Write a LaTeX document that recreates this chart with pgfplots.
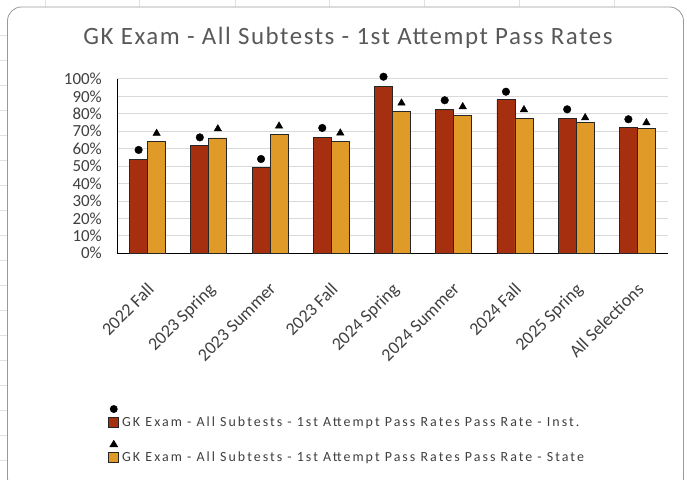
\documentclass[border=0pt]{standalone}
\usepackage{pgfplots}
\pgfplotsset{compat=1.18}
\usepackage{fontspec}
\setmainfont{Carlito}
\newfontfamily\legfont[LetterSpace=14.5]{Carlito}
\newfontfamily\ttlfont[LetterSpace=6.3]{Carlito}
\definecolor{inst}{RGB}{165,47,15}
\definecolor{state}{RGB}{224,154,40}
\definecolor{txt}{RGB}{64,64,64}
\definecolor{ttl}{RGB}{89,89,89}
\definecolor{gridc}{RGB}{217,217,217}
\definecolor{cellc}{RGB}{225,225,225}
\begin{document}
\begin{tikzpicture}[x=1bp,y=1bp]
\useasboundingbox (0,0) rectangle (687,480);
\foreach \yy in {35,60,...,460} \draw[cellc, line width=0.8bp] (0,480-\yy) -- (8,480-\yy);
\foreach \xx in {45,139,235,329,424,519,614} \draw[cellc, line width=0.8bp] (\xx,480) -- (\xx,473);
\draw[rounded corners=14bp, draw=black!40, line width=0.8bp, fill=white] (7.5,-12) rectangle (683.5,473);
\node[font=\ttlfont\fontsize{25}{28}\selectfont, text=ttl] at (348,442) {GK Exam - All Subtests - 1st Attempt Pass Rates};
\begin{axis}[
  at={(117bp,226.7bp)}, anchor=south west,
  width=551bp, height=174.3bp, scale only axis,
  ymin=0, ymax=100, xmin=-0.5, xmax=8.5,
  axis x line*=bottom, axis y line*=left,
  axis line style={black, line width=1bp},
  major tick length=0pt,
  ytick={0,10,...,100},
  yticklabel={\pgfmathprintnumber{\tick}\%},
  /pgf/number format/assume math mode=true,
  ymajorgrids, grid style={gridc, line width=1bp},
  xtick={0,...,8},
  xticklabels={2022 Fall,2023 Spring,2023 Summer,2023 Fall,2024 Spring,2024 Summer,2024 Fall,2025 Spring,All Selections},
  x tick label style={rotate=45, anchor=north east, font=\fontsize{18}{18}\selectfont, text=txt, inner sep=1bp, yshift=-18bp, xshift=-20bp},
  y tick label style={font=\fontsize{17}{17}\selectfont, text=txt, inner sep=0pt, xshift=-15bp},
  clip=false,
  legend style={at={(-0.016,-0.87)}, anchor=north west, draw=none, fill=none, font=\legfont\fontsize{14}{14}\selectfont, text=txt, row sep=11bp, inner sep=0pt, nodes={inner sep=1bp}},
  legend cell align=left,
]
\addplot[ybar, bar width=18bp, bar shift=-9bp, fill=inst, draw=black!85, line width=0.8bp,
  legend image code/.code={
    \draw[fill=inst, draw=black!85, line width=0.8bp] (0bp,-5bp) rectangle (10bp,5bp);
    \fill[black] (5bp,13.5bp) circle (3.5bp);
    \path (12bp,0bp);
  }] coordinates {(0,54) (1,62) (2,49.5) (3,66.7) (4,95.8) (5,82.6) (6,88.1) (7,77.6) (8,72.3)};
\addlegendentry{GK Exam - All Subtests - 1st Attempt Pass Rates Pass Rate - Inst.}
\addplot[ybar, bar width=18bp, bar shift=9bp, fill=state, draw=black!85, line width=0.8bp,
  legend image code/.code={
    \draw[fill=state, draw=black!85, line width=0.8bp] (0bp,-5bp) rectangle (10bp,5bp);
    \fill[black] (5bp,16.8bp) -- (1.2bp,10.5bp) -- (8.8bp,10.5bp) -- cycle;
    \path (12bp,0bp);
  }] coordinates {(0,64.3) (1,66.2) (2,68.1) (3,64.3) (4,81.2) (5,79.2) (6,77.6) (7,75.1) (8,71.5)};
\addlegendentry{GK Exam - All Subtests - 1st Attempt Pass Rates Pass Rate - State}
\addplot[only marks, mark=*, mark size=3.8bp, black, forget plot] coordinates {(-0.147,59.3) (0.853,66.5) (1.853,54.1) (2.853,71.9) (3.853,101.3) (4.853,87.8) (5.853,92.7) (6.853,82.6) (7.853,76.9)};
\addplot[only marks, mark=triangle*, mark size=4.3bp, black, forget plot] coordinates {(0.147,68.8) (1.147,71.4) (2.147,73) (3.147,69) (4.147,86.2) (5.147,84.1) (6.147,82.4) (7.147,77.8) (8.147,74.9)};
\end{axis}
\end{tikzpicture}
\end{document}
